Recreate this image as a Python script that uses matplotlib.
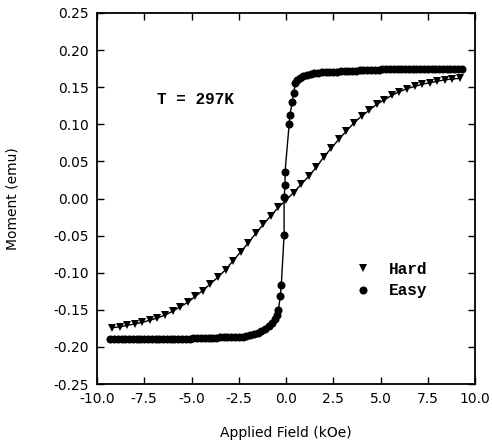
import matplotlib

matplotlib.use("Agg")
import matplotlib.pyplot as plt
from matplotlib.lines import Line2D

# hard axis (triangles), field in kOe, moment in emu
hard_field = [-9.2, -8.8, -8.4, -8.0, -7.6, -7.2, -6.8, -6.4, -6.0, -5.6,
              -5.2, -4.8, -4.4, -4.0, -3.6, -3.2, -2.8, -2.4, -2.0, -1.6,
              -1.2, -0.8, -0.4, 0.0, 0.4, 0.8, 1.2, 1.6, 2.0, 2.4,
              2.8, 3.2, 3.6, 4.0, 4.4, 4.8, 5.2, 5.6, 6.0, 6.4,
              6.8, 7.2, 7.6, 8.0, 8.4, 8.8, 9.2]
hard_moment = [-0.174, -0.173, -0.171, -0.169, -0.167, -0.164, -0.161, -0.157, -0.152, -0.146,
               -0.140, -0.132, -0.124, -0.115, -0.106, -0.096, -0.084, -0.072, -0.060, -0.047,
               -0.035, -0.023, -0.012, -0.002, 0.008, 0.019, 0.030, 0.042, 0.056, 0.068,
               0.080, 0.091, 0.102, 0.111, 0.119, 0.127, 0.133, 0.139, 0.144, 0.148,
               0.151, 0.154, 0.156, 0.158, 0.160, 0.161, 0.162]

# easy axis (circles)
easy_field = [-9.3, -9.1, -8.9, -8.7, -8.5, -8.3, -8.1, -7.9, -7.7, -7.5,
              -7.3, -7.1, -6.9, -6.7, -6.5, -6.3, -6.1, -5.9, -5.7, -5.5,
              -5.3, -5.1, -4.9, -4.7, -4.5, -4.3, -4.1, -3.9, -3.7, -3.5,
              -3.3, -3.1, -2.9, -2.7, -2.5, -2.3, -2.1, -1.9, -1.7, -1.5,
              -1.3, -1.1, -0.9, -0.75, -0.6, -0.5, -0.4, -0.3, -0.25, -0.1,
              -0.1, -0.05, -0.05, 0.17, 0.21, 0.33, 0.4, 0.5, 0.6, 0.75,
              0.9, 1.1, 1.3,
              1.5, 1.7, 1.9, 2.1, 2.3, 2.5, 2.7, 2.9, 3.1, 3.3,
              3.5, 3.7, 3.9, 4.1, 4.3, 4.5, 4.7, 4.9, 5.1, 5.3,
              5.5, 5.7, 5.9, 6.1, 6.3, 6.5, 6.7, 6.9, 7.1, 7.3,
              7.5, 7.7, 7.9, 8.1, 8.3, 8.5, 8.7, 8.9, 9.1, 9.3]
easy_moment = [-0.190, -0.190, -0.190, -0.190, -0.190, -0.190, -0.190, -0.190, -0.190, -0.190,
               -0.190, -0.190, -0.189, -0.189, -0.189, -0.189, -0.189, -0.189, -0.189, -0.189,
               -0.189, -0.189, -0.188, -0.188, -0.188, -0.188, -0.188, -0.188, -0.188, -0.187,
               -0.187, -0.187, -0.187, -0.186, -0.186, -0.186, -0.185, -0.184, -0.183, -0.181,
               -0.179, -0.176, -0.172, -0.168, -0.163, -0.157, -0.150, -0.131, -0.117, -0.049,
               0.002, 0.018, 0.036, 0.101, 0.113, 0.130, 0.142, 0.155, 0.160, 0.163,
               0.165, 0.167, 0.168,
               0.169, 0.169, 0.170, 0.170, 0.171, 0.171, 0.171, 0.172, 0.172, 0.172,
               0.172, 0.172, 0.173, 0.173, 0.173, 0.173, 0.173, 0.173, 0.174, 0.174,
               0.174, 0.174, 0.174, 0.174, 0.174, 0.175, 0.175, 0.175, 0.175, 0.175,
               0.175, 0.175, 0.175, 0.175, 0.175, 0.175, 0.175, 0.175, 0.175, 0.175]

x_ticks = [-10.0, -7.5, -5.0, -2.5, 0.0, 2.5, 5.0, 7.5, 10.0]
y_ticks = [-0.25, -0.20, -0.15, -0.10, -0.05, 0.00, 0.05, 0.10, 0.15, 0.20, 0.25]

label_font = {"family": "Liberation Mono", "weight": "bold", "size": 11.5}

fig = plt.figure(figsize=(4.92, 4.41), dpi=100)
ax = fig.add_axes([97 / 492, 1 - 384 / 441, 378 / 492, 371 / 441])

ax.plot(hard_field, hard_moment, color="black", lw=1.0, marker="v",
        markersize=6, markeredgewidth=0)
ax.plot(easy_field, easy_moment, color="black", lw=1.0, marker="o",
        markersize=5.8, markeredgewidth=0)

ax.set_xlim(-10, 10)
ax.set_ylim(-0.25, 0.25)
ax.set_xticks(x_ticks)
ax.set_yticks(y_ticks)
ax.set_xticklabels([f"{v:.1f}" for v in x_ticks])
ax.set_yticklabels([f"{v:.2f}" for v in y_ticks])
ax.tick_params(direction="in", top=True, right=True, length=5, width=1,
               labelsize=10, pad=6)
for s in ax.spines.values():
    s.set_linewidth(1.3)

ax.set_xlabel("Applied Field (kOe)", fontsize=10, labelpad=14)
ax.set_ylabel("Moment (emu)", fontsize=10, labelpad=24)

ax.text(-6.8, 0.133, "T = 297K", va="center", ha="left", fontdict=label_font)

handles = [
    Line2D([], [], color="black", ls="none", marker="v", markersize=6, markeredgewidth=0),
    Line2D([], [], color="black", ls="none", marker="o", markersize=5.8, markeredgewidth=0),
]
ax.legend(handles, ["Hard", "Easy"], loc="center left", bbox_to_anchor=(0.64, 0.28),
          frameon=False, prop=label_font, handlelength=1.2, handletextpad=1.0,
          labelspacing=0.4)

fig.savefig("out.png", dpi=100)
